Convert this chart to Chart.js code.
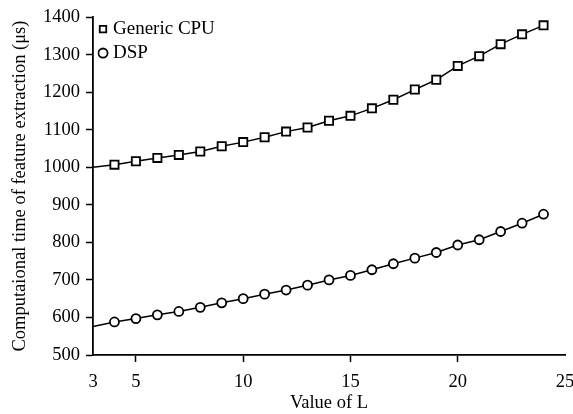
<!DOCTYPE html>
<html>
<head>
<meta charset="utf-8">
<script src="https://cdn.jsdelivr.net/npm/chart.js@4"></script>
<style>
  html, body { margin: 0; padding: 0; background: #fff; }
  #wrap { width: 573px; height: 414px; }
</style>
</head>
<body>
<div id="wrap"><canvas id="c"></canvas></div>
<script>
// valores
const valoresL = [3, 4, 5, 6, 7, 8, 9, 10, 11, 12, 13, 14, 15, 16, 17, 18, 19, 20, 21, 22, 23, 24];
const tiempoCPU = [1000, 1007, 1016, 1025, 1033, 1042, 1056, 1067, 1080, 1095, 1106, 1124,
                   1137, 1157, 1180, 1207, 1233, 1270, 1296, 1328, 1354, 1378];
const tiempoDSP = [576, 588, 597, 607, 616, 627, 639, 650, 662, 673, 686, 700,
                   712, 727, 743, 758, 773, 793, 807, 829, 851, 875];
const ticksX = [3, 5, 10, 15, 20, 25];

Chart.defaults.font.family = '"Liberation Serif", "Times New Roman", serif';
Chart.defaults.color = '#000';

const toPoints = arr => valoresL.map((x, i) => ({ x: x, y: arr[i] }));

// mueve la leyenda a su sitio dentro del area
const moverLeyenda = {
    id: 'moverLeyenda',
    afterLayout(chart) {
        const lg = chart.legend;
        const h = lg.bottom - lg.top;
        lg.left += 4.5; lg.right += 4.5;
        lg.top = chart.chartArea.top - 2.5;
        lg.bottom = lg.top + h;
    }
};

new Chart(document.getElementById('c'), {
    type: 'line',
    data: {
        datasets: [{
            label: 'Generic CPU',
            data: toPoints(tiempoCPU),
            borderColor: '#000',
            borderWidth: 1.5,
            pointStyle: 'rect',
            pointRadius: ctx => ctx.raw && ctx.raw.x === 3 ? 0 : 5.8,
            pointBackgroundColor: '#fff',
            pointBorderColor: '#000',
            pointBorderWidth: 1.8,
            tension: 0
        }, {
            label: 'DSP',
            data: toPoints(tiempoDSP),
            borderColor: '#000',
            borderWidth: 1.5,
            pointStyle: 'circle',
            pointRadius: ctx => ctx.raw && ctx.raw.x === 3 ? 0 : 4.5,
            pointBackgroundColor: '#fff',
            pointBorderColor: '#000',
            pointBorderWidth: 1.8,
            tension: 0
        }]
    },
    options: {
        responsive: true,
        maintainAspectRatio: false,
        animation: false,
        layout: { padding: { top: 15, right: 8, left: 0, bottom: 0 } },
        plugins: {
            legend: {
                position: 'chartArea',
                align: 'start',
                labels: {
                    usePointStyle: true,
                    boxWidth: 1,
                    boxHeight: 6.5,
                    padding: 5,
                    color: '#000',
                    font: { size: 19 }
                }
            },
            tooltip: { enabled: false }
        },
        scales: {
            x: {
                type: 'linear',
                min: 3,
                max: 25,
                afterBuildTicks: s => { s.ticks = ticksX.map(v => ({ value: v })); },
                afterFit: s => { s.height = 59; s.paddingRight = 8; s.paddingLeft = 0; },
                border: { color: '#000', width: 1.8 },
                grid: {
                    drawOnChartArea: false,
                    tickLength: 7,
                    tickWidth: 1.5,
                    color: ctx => (ctx.tick && (ctx.tick.value === 3 || ctx.tick.value === 25)) ? 'rgba(0,0,0,0)' : '#000'
                },
                ticks: { font: { size: 18.5 }, padding: 9, maxRotation: 0, color: '#000' },
                title: {
                    display: true,
                    text: 'Value of L',
                    font: { size: 18.5 },
                    color: '#000',
                    padding: { top: 0, bottom: 0 }
                }
            },
            y: {
                min: 500,
                max: 1400,
                ticks: {
                    stepSize: 100,
                    font: { size: 18.5 },
                    padding: 6,
                    color: '#000',
                    callback: v => String(v)
                },
                afterFit: s => { s.width = 93; },
                border: { color: '#000', width: 1.8 },
                grid: { drawOnChartArea: false, tickLength: 7, tickWidth: 1.5, color: '#000' },
                title: {
                    display: true,
                    text: 'Computaional time of feature extraction (μs)',
                    font: { size: 18.5 },
                    color: '#000',
                    padding: { top: 9, bottom: 0 }
                }
            }
        }
    },
    plugins: [moverLeyenda]
});
</script>
</body>
</html>
